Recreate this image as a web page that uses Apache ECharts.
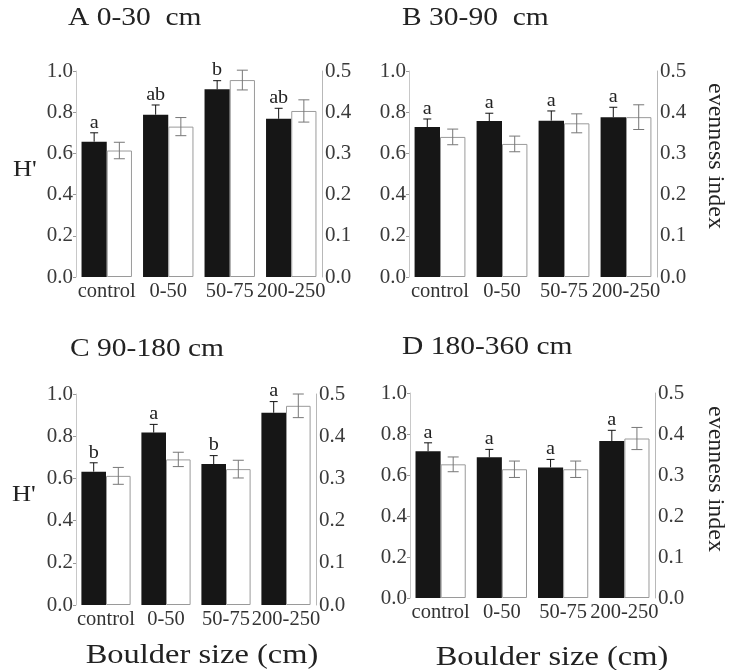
<!DOCTYPE html>
<html><head><meta charset="utf-8">
<script src="https://cdn.jsdelivr.net/npm/echarts@6/dist/echarts.min.js"></script>
<style>html,body{margin:0;padding:0;background:#fff}#c{width:733px;height:670px}</style>
</head><body><div id="c"></div>
<script>
// ---- data ----
const categories = ['control', '0-50', '50-75', '200-250'];
const leftTicks = ['0.0', '0.2', '0.4', '0.6', '0.8', '1.0'];
const rightTicks = ['0.0', '0.1', '0.2', '0.3', '0.4', '0.5'];

const titleA = 'A 0-30  cm', titleB = 'B 30-90  cm', titleC = 'C 90-180 cm', titleD = 'D 180-360 cm';

// H' (black bars, left axis)
const hA = [0.657, 0.788, 0.911, 0.768];
const hAErr = [0.043, 0.047, 0.042, 0.051];
const hB = [0.728, 0.757, 0.759, 0.775];
const hBErr = [0.039, 0.038, 0.047, 0.049];
const hC = [0.632, 0.817, 0.668, 0.911];
const hCErr = [0.042, 0.039, 0.040, 0.053];
const hD = [0.716, 0.686, 0.637, 0.766];
const hDErr = [0.041, 0.039, 0.039, 0.052];

// evenness index (white bars, right axis)
const eA = [0.307, 0.365, 0.478, 0.403];
const eAErr = [0.020, 0.022, 0.024, 0.027];
const eB = [0.340, 0.323, 0.373, 0.388];
const eBErr = [0.019, 0.019, 0.023, 0.030];
const eC = [0.306, 0.345, 0.322, 0.472];
const eCErr = [0.020, 0.017, 0.021, 0.028];
const eD = [0.326, 0.314, 0.314, 0.389];
const eDErr = [0.018, 0.020, 0.020, 0.027];

// significance letters
const lettersA = ['a', 'ab', 'b', 'ab'];
const lettersB = ['a', 'a', 'a', 'a'];
const lettersC = ['b', 'a', 'b', 'a'];
const lettersD = ['a', 'a', 'a', 'a'];

// ---- chart ----
const FONT = '"Liberation Serif", "DejaVu Serif", serif';
const GAP = 0.18;
const panels = [
  { title: titleA, h: hA, hErr: hAErr, e: eA, eErr: eAErr, letters: lettersA,
    grid: { left: 76, top: 71, width: 246, height: 206 }, tpos: [68, 18] },
  { title: titleB, h: hB, hErr: hBErr, e: eB, eErr: eBErr, letters: lettersB,
    grid: { left: 409, top: 71, width: 248, height: 206 }, tpos: [402, 18] },
  { title: titleC, h: hC, hErr: hCErr, e: eC, eErr: eCErr, letters: lettersC,
    grid: { left: 76, top: 394, width: 240, height: 211 }, tpos: [70, 349] },
  { title: titleD, h: hD, hErr: hDErr, e: eD, eErr: eDErr, letters: lettersD,
    grid: { left: 410, top: 393, width: 245, height: 205 }, tpos: [402, 347] }
];

function barX(api, i, side) {
  const c = api.coord([i, 0]);
  const band = api.size([1, 0])[0];
  const bw = band * (1 - GAP) / 2;
  return c[0] + side * bw / 2;
}

function errRender(side, color, capW, upperOnly) {
  return function (params, api) {
    const i = api.value(0), v = api.value(1), e = api.value(2);
    const x = barX(api, i, side);
    const top = api.coord([i, v + e])[1];
    const mid = api.coord([i, v])[1];
    const bot = upperOnly ? mid : api.coord([i, v - e])[1];
    const st = { stroke: color, lineWidth: 1 };
    const ch = [
      { type: 'line', shape: { x1: x, y1: top, x2: x, y2: bot }, style: st },
      { type: 'line', shape: { x1: x - capW / 2, y1: top, x2: x + capW / 2, y2: top }, style: st }
    ];
    if (!upperOnly) ch.push({ type: 'line', shape: { x1: x - capW / 2, y1: bot, x2: x + capW / 2, y2: bot }, style: st });
    return { type: 'group', children: ch };
  };
}

function letterRender(letters) {
  return function (params, api) {
    const i = api.value(0), v = api.value(1), e = api.value(2);
    const x = barX(api, i, -1);
    const top = api.coord([i, v + e])[1];
    return { type: 'text', x: x, y: top - 1, scaleX: 1.12, originX: 0,
      style: { text: letters[i], font: '18px ' + FONT, fill: '#222', align: 'center', verticalAlign: 'bottom' } };
  };
}

const option = { animation: false, backgroundColor: '#fff', grid: [], xAxis: [], yAxis: [], series: [], graphic: [] };

panels.forEach((p, k) => {
  option.grid.push(p.grid);
  option.xAxis.push({
    type: 'category', gridIndex: k, data: categories,
    axisLine: { show: false }, axisTick: { show: false },
    axisLabel: { color: '#333', fontFamily: FONT, fontSize: 20.5, margin: 4, interval: 0 }
  });
  option.yAxis.push({
    type: 'value', gridIndex: k, min: 0, max: 1, interval: 0.2, position: 'left',
    axisLine: { show: true, lineStyle: { color: '#c8c8c8' } },
    axisTick: { show: true, length: 3, lineStyle: { color: '#999' } },
    splitLine: { show: false },
    axisLabel: { color: '#3a3a3a', fontFamily: FONT, fontSize: 21, margin: 3,
      formatter: v => leftTicks[Math.round(v / 0.2)] }
  });
  option.yAxis.push({
    type: 'value', gridIndex: k, min: 0, max: 0.5, interval: 0.1, position: 'right',
    axisLine: { show: true, lineStyle: { color: '#b8b8b8' } },
    axisTick: { show: false }, splitLine: { show: false },
    axisLabel: { color: '#3a3a3a', fontFamily: FONT, fontSize: 21, margin: 3,
      formatter: v => rightTicks[Math.round(v / 0.1)] }
  });
  const hData = p.h.map((v, i) => [i, v, p.hErr[i]]);
  const eData = p.e.map((v, i) => [i, v, p.eErr[i]]);
  option.series.push({
    type: 'bar', xAxisIndex: k, yAxisIndex: 2 * k, data: p.h,
    barGap: '0%', barCategoryGap: (GAP * 100) + '%',
    itemStyle: { color: '#161616' }
  });
  option.series.push({
    type: 'bar', xAxisIndex: k, yAxisIndex: 2 * k + 1, data: p.e,
    barGap: '0%', barCategoryGap: (GAP * 100) + '%',
    itemStyle: { color: '#fff', borderColor: '#9a9a9a', borderWidth: 1 }
  });
  option.series.push({
    type: 'custom', xAxisIndex: k, yAxisIndex: 2 * k, data: hData,
    encode: { x: 0, y: 1 }, z: 5,
    renderItem: errRender(-1, '#111', 8, true)
  });
  option.series.push({
    type: 'custom', xAxisIndex: k, yAxisIndex: 2 * k + 1, data: eData,
    encode: { x: 0, y: 1 }, z: 5,
    renderItem: errRender(1, '#777', 11, false)
  });
  option.series.push({
    type: 'custom', xAxisIndex: k, yAxisIndex: 2 * k, data: hData,
    encode: { x: 0, y: 1 }, z: 6,
    renderItem: letterRender(p.letters)
  });
  option.graphic.push({ type: 'text', x: p.tpos[0], y: p.tpos[1], scaleX: 1.18,
    style: { text: p.title, font: '25px ' + FONT, fill: '#222', verticalAlign: 'middle' } });
});

// axis titles
option.graphic.push(
  { type: 'text', x: 13, y: 170, scaleX: 1.1, style: { text: "H'", font: '24px ' + FONT, fill: '#222', verticalAlign: 'middle' } },
  { type: 'text', x: 12, y: 495, scaleX: 1.1, style: { text: "H'", font: '24px ' + FONT, fill: '#222', verticalAlign: 'middle' } },
  { type: 'text', x: 715, y: 156, rotation: -Math.PI / 2,
    style: { text: 'evenness index', font: '24px ' + FONT, fill: '#222', align: 'center', verticalAlign: 'middle' } },
  { type: 'text', x: 715, y: 479, rotation: -Math.PI / 2,
    style: { text: 'evenness index', font: '24px ' + FONT, fill: '#222', align: 'center', verticalAlign: 'middle' } },
  { type: 'text', x: 202, y: 656, scaleX: 1.16,
    style: { text: 'Boulder size (cm)', font: '28px ' + FONT, fill: '#222', align: 'center', verticalAlign: 'middle' } },
  { type: 'text', x: 552, y: 658, scaleX: 1.16,
    style: { text: 'Boulder size (cm)', font: '28px ' + FONT, fill: '#222', align: 'center', verticalAlign: 'middle' } }
);

const chart = echarts.init(document.getElementById('c'), null, { renderer: 'canvas' });
chart.setOption(option);
</script>
</body></html>
